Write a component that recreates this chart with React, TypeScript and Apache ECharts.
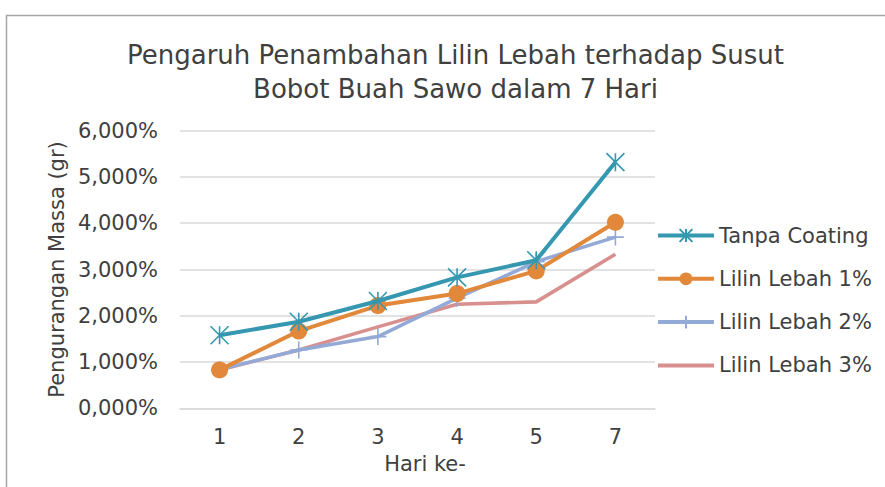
import React, { useEffect, useRef } from "react";
import * as echarts from "echarts";

const categories = ["1", "2", "3", "4", "5", "7"];
const seriesNames = ["Tanpa Coating", "Lilin Lebah 1%", "Lilin Lebah 2%", "Lilin Lebah 3%"];
const tanpaCoating = [1.58, 1.87, 2.32, 2.83, 3.2, 5.32];
const lilin1 = [0.83, 1.67, 2.22, 2.48, 2.97, 4.02];
const lilin2 = [0.84, 1.26, 1.55, 2.38, 3.17, 3.7];
const lilin3 = [0.83, 1.26, 1.76, 2.25, 2.3, 3.33];
const yTicks = [0, 1, 2, 3, 4, 5, 6];

const FONT = "DejaVu Sans";
const TEXT = "#404040";

export default function App() {
  const ref = useRef<HTMLDivElement>(null);
  useEffect(() => {
    document.body.style.margin = "0";
    if (!ref.current) return;
    const chart = echarts.init(ref.current, null, { renderer: "svg" });
    const colors = ["#3598B0", "#E2883A", "#93AAD7", "#D8908F"];
    const asterisk = "path://M0 0 L10 10 M10 0 L0 10 M5 0 L5 10";
    const plus = "path://M0 5 L10 5 M5 0 L5 10";
    chart.setOption({
      animation: false,
      graphic: [
        {
          type: "rect",
          shape: { x: 6.5, y: 15.5, width: 900, height: 500 },
          style: { fill: "none", stroke: "#A6A6A6", lineWidth: 1.5 },
          silent: true,
        },
      ],
      title: {
        text: "Pengaruh Penambahan Lilin Lebah terhadap Susut\nBobot Buah Sawo dalam 7 Hari",
        left: 455.5,
        top: 38,
        padding: 0,
        textAlign: "center",
        textStyle: { fontFamily: FONT, fontSize: 26, fontWeight: "normal", lineHeight: 34, color: TEXT },
      },
      legend: {
        orient: "vertical",
        left: 656,
        top: 223,
        padding: 0,
        itemWidth: 56,
        itemHeight: 16,
        itemGap: 18.3,
        lineStyle: { width: 4 },
        textStyle: { fontFamily: FONT, fontSize: 21, color: TEXT, lineHeight: 25 },
        data: [
          { name: seriesNames[0] },
          { name: seriesNames[1] },
          { name: seriesNames[2] },
          { name: seriesNames[3], icon: "path://M0 0 H56 V4 H0 Z" },
        ],
      },
      grid: { left: 180, right: 230, top: 130.7, bottom: 78.7 },
      xAxis: {
        type: "category",
        data: categories,
        axisLine: { lineStyle: { color: "#D9D9D9", width: 1.5 } },
        axisTick: { show: false },
        axisLabel: { fontFamily: FONT, fontSize: 21, color: TEXT, margin: 18 },
        name: "Hari ke-",
        nameLocation: "middle",
        nameGap: 45,
        nameTextStyle: { fontFamily: FONT, fontSize: 21, color: TEXT, padding: [0, 0, 0, 15] },
      },
      yAxis: {
        type: "value",
        min: yTicks[0],
        max: yTicks[yTicks.length - 1],
        interval: 1,
        axisLine: { show: false },
        axisTick: { show: false },
        splitLine: { lineStyle: { color: "#D9D9D9", width: 1.5 } },
        axisLabel: {
          fontFamily: FONT,
          fontSize: 21,
          color: TEXT,
          margin: 22,
          formatter: (v: number) => v.toFixed(3).replace(".", ",") + "%",
        },
        name: "Pengurangan Massa (gr)",
        nameLocation: "middle",
        nameGap: 110,
        nameTextStyle: { fontFamily: FONT, fontSize: 21, color: TEXT },
      },
      series: [
        {
          name: seriesNames[0],
          type: "line",
          data: tanpaCoating,
          symbol: asterisk,
          symbolSize: 18,
          lineStyle: { color: colors[0], width: 4 },
          itemStyle: { color: colors[0], borderColor: colors[0], borderWidth: 1.6 },
          z: 5,
        },
        {
          name: seriesNames[1],
          type: "line",
          data: lilin1,
          symbol: "circle",
          symbolSize: 17,
          lineStyle: { color: colors[1], width: 4 },
          itemStyle: { color: colors[1], borderWidth: 0 },
          z: 4,
        },
        {
          name: seriesNames[2],
          type: "line",
          data: lilin2,
          symbol: plus,
          symbolSize: 17,
          lineStyle: { color: colors[2], width: 3.6 },
          itemStyle: { color: colors[2], borderColor: colors[2], borderWidth: 1.6 },
          z: 3,
        },
        {
          name: seriesNames[3],
          type: "line",
          data: lilin3,
          symbol: "none",
          lineStyle: { color: colors[3], width: 3.6 },
          itemStyle: { color: colors[3] },
          z: 2,
        },
      ],
    });
    return () => chart.dispose();
  }, []);
  return <div ref={ref} style={{ width: 885, height: 487 }} />;
}
